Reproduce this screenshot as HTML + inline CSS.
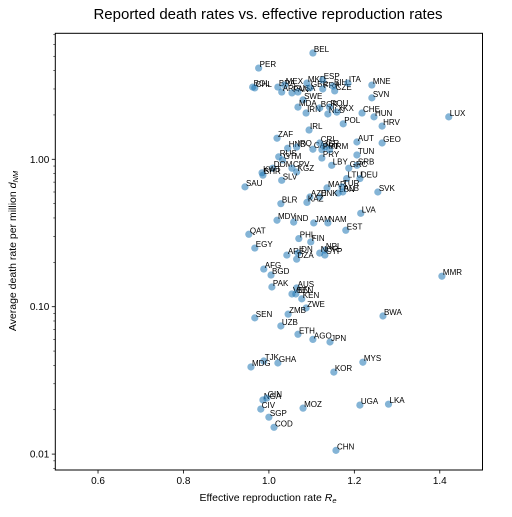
<!DOCTYPE html>
<html><head><meta charset="utf-8"><style>
body{margin:0;background:#fff;}
svg text{font-family:"Liberation Sans","DejaVu Sans",sans-serif;}
</style></head><body>
<svg id="chart" width="512" height="512" xmlns="http://www.w3.org/2000/svg">
<rect width="512" height="512" fill="#fff"/>
<text x="268" y="19" font-size="15" text-anchor="middle" fill="#000">Reported death rates vs. effective reproduction rates</text>
<g id="marks"></g>
<g id="axes"></g>
<text x="268" y="501" font-size="10.5" text-anchor="middle">Effective reproduction rate <tspan font-style="italic">R</tspan><tspan font-style="italic" font-size="7.5" dy="2">e</tspan></text>
<text transform="translate(16,251) rotate(-90)" font-size="10.5" text-anchor="middle">Average death rate per million <tspan font-style="italic">d</tspan><tspan font-style="italic" font-size="7.5" dy="2">NM</tspan></text>
</svg>
<script>
const countries=["BEL","PER","BOL","CHL","BRA","MEX","ARG","PAN","USA","MKD","GBR","ESP","FRA","BIH","CZE","ITA","MNE","SVN","CHE","HUN","HRV","POL","IRL","SWE","MDA","IRN","BGR","ROU","NLD","XKX","ZAF","HND","IRQ","CAN","CRI","ISR","PRT","PRY","ARM","RUS","GTM","AUT","GEO","TUN","LBY","SRB","GRC","DOM","CPV","KGZ","KWT","BHR","SLV","SAU","LTU","DEU","MAR","TUR","LBN","ALB","DNK","AZE","KAZ","SVK","BLR","LVA","MDV","IND","JAM","NAM","EST","QAT","PHL","FIN","EGY","NPL","NOR","CYP","ARE","IDN","DZA","AFG","BGD","PAK","AUS","VEN","BEN","KEN","ZWE","ZMB","BWA","SEN","UZB","ETH","AGO","JPN","TJK","GHA","MDG","MYS","KOR","NGA","GIN","CIV","SGP","MOZ","UGA","LKA","COD","CHN","LUX","MMR"];
const reValues=[1.103,0.976,0.962,0.967,1.021,1.037,1.030,1.054,1.068,1.089,1.096,1.126,1.126,1.150,1.154,1.185,1.241,1.241,1.218,1.246,1.265,1.174,1.094,1.080,1.068,1.087,1.119,1.142,1.138,1.159,1.019,1.044,1.065,1.103,1.119,1.131,1.124,1.124,1.142,1.023,1.032,1.206,1.265,1.206,1.147,1.206,1.187,1.009,1.054,1.065,0.984,0.986,1.030,0.944,1.182,1.213,1.136,1.171,1.162,1.173,1.119,1.096,1.089,1.255,1.028,1.215,1.019,1.058,1.105,1.138,1.180,0.953,1.070,1.098,0.967,1.131,1.119,1.131,1.042,1.068,1.065,0.988,1.005,1.007,1.065,1.054,1.063,1.077,1.087,1.045,1.267,0.967,1.028,1.068,1.103,1.143,0.988,1.021,0.958,1.220,1.152,0.986,0.995,0.981,1.000,1.080,1.213,1.280,1.012,1.157,1.421,1.405];
const deathValues=[5.26,4.16,3.09,3.05,3.09,3.19,2.86,2.82,2.86,3.29,3.05,3.45,3.0,3.14,2.91,3.29,3.19,2.61,2.06,1.94,1.68,1.74,1.58,2.53,2.26,2.06,2.23,2.26,2.03,2.09,1.39,1.19,1.21,1.17,1.29,1.21,1.16,1.02,1.16,1.04,0.99,1.31,1.29,1.07,0.91,0.91,0.87,0.87,0.87,0.82,0.81,0.78,0.72,0.65,0.74,0.74,0.64,0.65,0.59,0.60,0.555,0.555,0.51,0.60,0.50,0.43,0.386,0.375,0.37,0.37,0.33,0.31,0.29,0.275,0.25,0.242,0.231,0.224,0.224,0.231,0.21,0.18,0.164,0.136,0.134,0.122,0.122,0.113,0.098,0.089,0.0865,0.084,0.074,0.065,0.060,0.0576,0.0428,0.0415,0.039,0.042,0.036,0.0233,0.024,0.0202,0.0178,0.0205,0.0215,0.0218,0.0152,0.0106,1.94,0.161];
const xTicks=[0.6,0.8,1.0,1.2,1.4];
const xTickLabels=["0.6","0.8","1.0","1.2","1.4"];
const yTicks=[0.01,0.1,1];
const yTickLabels=["0.01","0.10","1.00"];

const L=55.3,R=482.5,T=33.3,B=470;
const xMin=0.5,xMax=1.5;
const y1Px=159.3,decPx=147.4;
function xs(v){return L+(v-xMin)/(xMax-xMin)*(R-L);}
function ys(v){return y1Px-Math.log10(v)*decPx;}
const NS="http://www.w3.org/2000/svg";
const marks=document.getElementById('marks'),axes=document.getElementById('axes');
function mk(tag,attrs,parent){const e=document.createElementNS(NS,tag);for(const k in attrs)e.setAttribute(k,attrs[k]);parent.appendChild(e);return e;}

for(let i=0;i<countries.length;i++){
  const cx=xs(reValues[i]),cy=ys(deathValues[i]);
  const c=mk('circle',{cx:cx,cy:cy,r:3.6,fill:'#1f77b4','fill-opacity':0.55},marks);
  
  
  const t=mk('text',{x:cx+1,y:cy-1,'font-size':8,fill:'#000'},marks);
  
  
  t.textContent=countries[i];
}

const frame=mk('rect',{x:L,y:T,width:R-L,height:B-T,fill:'none',stroke:'#000','stroke-width':1},axes);



xTicks.forEach((v,i)=>{
  const x=xs(v);
  const tk=mk('line',{x1:x,x2:x,y1:B,y2:B+3.5,stroke:'#000','stroke-width':0.8},axes);
  
  
  const t=mk('text',{x:x,y:B+14,'font-size':10,'text-anchor':'middle'},axes);
  
  
  t.textContent=xTickLabels[i];
});
yTicks.forEach((v,i)=>{
  const y=ys(v);
  const tk=mk('line',{x1:L-3.5,x2:L,y1:y,y2:y,stroke:'#000','stroke-width':0.8},axes);
  
  
  const t=mk('text',{x:L-6,y:y+3.5,'font-size':10,'text-anchor':'end'},axes);
  
  
  t.textContent=yTickLabels[i];
});
for(let d=-3;d<=0;d++){
  for(let m=2;m<=9;m++){
    const v=m*Math.pow(10,d);
    const y=ys(v);
    if(y<T||y>B)continue;
    const tk=mk('line',{x1:L-2,x2:L,y1:y,y2:y,stroke:'#000','stroke-width':0.6},axes);
    
    
  }
}
</script>
</body></html>
